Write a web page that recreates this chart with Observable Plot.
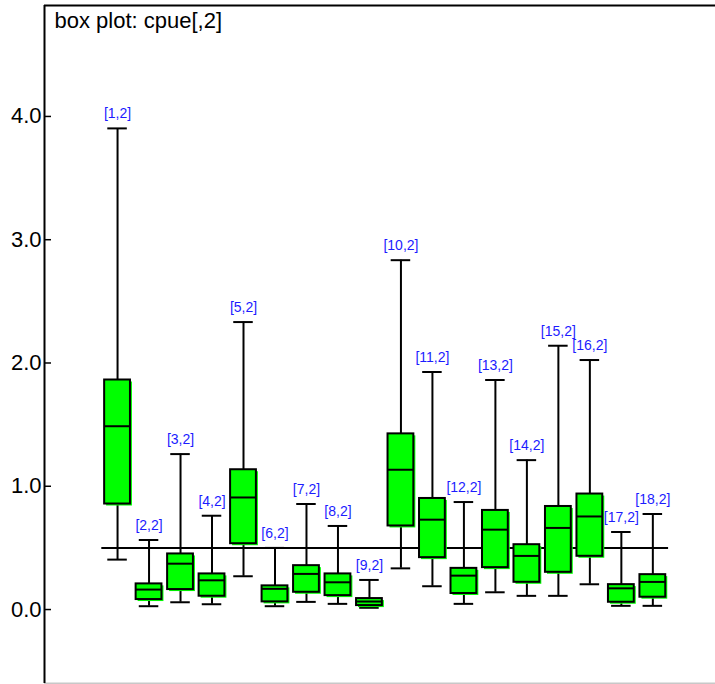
<!DOCTYPE html>
<html>
<head>
<meta charset="utf-8">
<script src="https://cdn.jsdelivr.net/npm/d3@7"></script>
<script src="https://cdn.jsdelivr.net/npm/@observablehq/plot@0.6"></script>
<style>
  html, body { margin: 0; padding: 0; background: #fff; }
  #chart svg { display: block; }
</style>
</head>
<body>
<div id="chart"></div>
<script>
// ---- data ----
const labels = ["[1,2]","[2,2]","[3,2]","[4,2]","[5,2]","[6,2]","[7,2]","[8,2]","[9,2]",
                "[10,2]","[11,2]","[12,2]","[13,2]","[14,2]","[15,2]","[16,2]","[17,2]","[18,2]"];
const index  = [1,2,3,4,5,6,7,8,9,10,11,12,13,14,15,16,17,18];
const lower  = [0.405,0.027,0.059,0.043,0.270,0.027,0.062,0.046,0.014,0.334,0.189,0.046,0.140,0.111,0.111,0.205,0.030,0.030];
const q1     = [0.856,0.081,0.162,0.108,0.534,0.062,0.140,0.113,0.032,0.678,0.421,0.130,0.340,0.221,0.302,0.432,0.059,0.100];
const median = [1.487,0.162,0.372,0.237,0.909,0.168,0.289,0.221,0.065,1.134,0.729,0.275,0.648,0.435,0.662,0.755,0.172,0.224];
const q3     = [1.862,0.208,0.451,0.289,1.134,0.192,0.356,0.289,0.089,1.425,0.901,0.334,0.804,0.526,0.836,0.937,0.202,0.283];
const upper  = [3.903,0.564,1.261,0.761,2.332,0.500,0.856,0.678,0.240,2.834,1.927,0.872,1.862,1.212,2.140,2.024,0.629,0.775];
const refValue = 0.5;
const yTicks = [0, 1, 2, 3, 4];
const title = "box plot: cpue[,2]";

// ---- table for Plot ----
const data = index.map((i, k) => ({
  i, label: labels[k], lo: lower[k], q1: q1[k], med: median[k], q3: q3[k], hi: upper[k]
}));

const X_DOMAIN = [-1.32, 19.99];
const Y_DOMAIN = [-0.6, 4.9];
const BOX_HALF = 0.41;
const CAP_HALF = 0.31;
const GREEN = "#00ff00";
const BLUE = "#1c1cff";
const FONT = "Liberation Sans, Arial, Helvetica, sans-serif";

const chart = Plot.plot({
  width: 715,
  height: 684,
  marginLeft: 44,
  marginRight: 0,
  marginTop: 5,
  marginBottom: 1,
  style: { fontFamily: FONT, background: "#fff" },
  x: { type: "linear", domain: X_DOMAIN, axis: null },
  y: { type: "linear", domain: Y_DOMAIN, axis: null },
  marks: [
    // frame lines
    Plot.ruleY([Y_DOMAIN[0]], { stroke: "#c8c8c8", strokeWidth: 2 }),
    Plot.ruleX([X_DOMAIN[0]], { stroke: "black", strokeWidth: 2 }),
    Plot.ruleY([Y_DOMAIN[1]], { stroke: "black", strokeWidth: 2 }),
    // y axis: inward ticks + labels
    Plot.axisY(yTicks, { anchor: "left", fill: "none", stroke: "black", strokeWidth: 1.5, tickSize: 7, dx: 7 }),
    Plot.axisY(yTicks, { anchor: "left", stroke: "none", tickSize: 0, tickPadding: 3,
      tickFormat: d3.format(".1f"), fontSize: 22, fill: "black", label: null }),
    // reference line
    Plot.ruleY([refValue], { x1: index[0] - 0.5, x2: index[index.length - 1] + 0.5, stroke: "black", strokeWidth: 2 }),
    // whiskers
    Plot.ruleX(data, { x: "i", y1: "lo", y2: "hi", stroke: "black", strokeWidth: 2 }),
    Plot.ruleY(data, { y: "lo", x1: d => d.i - CAP_HALF, x2: d => d.i + CAP_HALF, stroke: "black", strokeWidth: 2 }),
    Plot.ruleY(data, { y: "hi", x1: d => d.i - CAP_HALF, x2: d => d.i + CAP_HALF, stroke: "black", strokeWidth: 2 }),
    // box shadow
    Plot.rect(data, { x1: d => d.i - BOX_HALF, x2: d => d.i + BOX_HALF, y1: "q1", y2: "q3", fill: GREEN, dx: 2, dy: 2 }),
    // boxes
    Plot.rect(data, { x1: d => d.i - BOX_HALF, x2: d => d.i + BOX_HALF, y1: "q1", y2: "q3",
      fill: GREEN, stroke: "black", strokeWidth: 2 }),
    // medians
    Plot.ruleY(data, { y: "med", x1: d => d.i - BOX_HALF, x2: d => d.i + BOX_HALF, stroke: "black", strokeWidth: 2 }),
    // labels
    Plot.text(data, { x: "i", y: "hi", text: "label", fill: BLUE, fontSize: 14, lineAnchor: "bottom", dy: -10 }),
    // title
    Plot.text([title], { frameAnchor: "top-left", text: d => d, dx: 10, dy: 7, lineAnchor: "top",
      textAnchor: "start", fontSize: 22, fill: "black" })
  ]
});

document.getElementById("chart").appendChild(chart);
</script>
</body>
</html>
